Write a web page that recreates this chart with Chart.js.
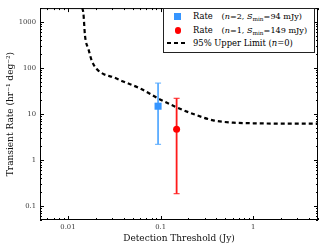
<!DOCTYPE html>
<html>
<head>
<meta charset="utf-8">
<script src="https://cdn.jsdelivr.net/npm/chart.js@4/dist/chart.umd.min.js"></script>
<style>
  body { margin: 0; background: #fff; }
  #wrap { position: relative; width: 323px; height: 250px; }
  #legend {
    position: absolute; left: 163px; top: 8px; width: 150px; height: 43px;
    border: 1px solid #222; background: #fff;
    font-family: "DejaVu Serif", serif; font-size: 8.4px; color: #000;
  }
  #legend .row { position: absolute; left: 0; height: 12px; line-height: 12px; white-space: nowrap; }
  #legend .mk { position: absolute; left: 3px; top: 0; width: 22px; height: 12px; }
  #legend .lbl { position: absolute; left: 29px; top: 0; }
  #legend .m { margin-left: 6px; font-size: 8.1px; }
  #legend sub { font-size: 5.8px; vertical-align: -2px; line-height: 0; }
</style>
</head>
<body>
<div id="wrap">
  <canvas id="rateChart" width="323" height="250"></canvas>
  <div id="legend"></div>
</div>
<script>
// axis ranges and tick labels
const xRange = [0.005, 5];
const yRange = [0.05, 2000];
const xTickValues = [0.01, 0.1, 1];
const yTickValues = [0.1, 1, 10, 100, 1000];

// measured rates
const rateX = [0.094, 0.149];
const rateY = [14.8, 4.7];
const rateLow = [2.2, 0.186];
const rateHigh = [47, 22];
const rateN = [2, 1];
const rateSmin = [94, 149];
const rateColors = ['#3595ff', '#ff0000'];
const barColors = ['#5aacff', '#ff1a1a'];

// 95% upper limit curve (n = 0)
const limitX = [0.0143, 0.0147, 0.0153, 0.0167, 0.0181, 0.0205, 0.0242, 0.031, 0.0395, 0.06, 0.1, 0.149, 0.226, 0.37, 0.61, 1.0, 2.0, 5.0];
const limitY = [2000, 1530, 500, 253, 144, 95, 74, 63, 51, 36, 20.5, 14, 10, 7.3, 6.5, 6.3, 6.2, 6.2];

const serif = '"DejaVu Serif", serif';

// inward ticks on all four sides plus the frame
const frameTicks = {
    id: 'frameTicks',
    afterDraw(chart) {
        const { ctx, chartArea: a, scales } = chart;
        ctx.save();
        ctx.strokeStyle = '#000';
        ctx.lineWidth = 1;
        ctx.strokeRect(a.left + 0.5, a.top + 0.5, a.width - 1, a.height - 1);

        function logTicks(min, max) {
            const out = [];
            for (let e = Math.floor(Math.log10(min)); e <= Math.ceil(Math.log10(max)); e++) {
                for (let m = 1; m < 10; m++) {
                    const v = m * Math.pow(10, e);
                    if (v >= min * 0.999 && v <= max * 1.001) out.push({ v: v, major: m === 1 });
                }
            }
            return out;
        }
        ctx.beginPath();
        logTicks(scales.x.min, scales.x.max).forEach(t => {
            const px = Math.round(scales.x.getPixelForValue(t.v)) + 0.5;
            const len = t.major ? 4 : 2;
            ctx.moveTo(px, a.bottom); ctx.lineTo(px, a.bottom - len);
            ctx.moveTo(px, a.top); ctx.lineTo(px, a.top + len);
        });
        logTicks(scales.y.min, scales.y.max).forEach(t => {
            const py = Math.round(scales.y.getPixelForValue(t.v)) + 0.5;
            const len = t.major ? 4 : 2;
            ctx.moveTo(a.left, py); ctx.lineTo(a.left + len, py);
            ctx.moveTo(a.right, py); ctx.lineTo(a.right - len, py);
        });
        ctx.stroke();
        ctx.restore();
    }
};

const datasets = [
    {
        label: '95% Upper Limit',
        data: limitX.map((x, i) => ({ x: x, y: limitY[i] })),
        showLine: true,
        borderColor: '#000',
        borderWidth: 2.2,
        borderDash: [4, 3],
        pointRadius: 0,
        cubicInterpolationMode: 'monotone',
        order: 3
    }
];

rateX.forEach((x, i) => {
    // error bar with caps
    datasets.push({
        label: 'err' + i,
        data: [{ x: x, y: rateLow[i] }, { x: x, y: rateHigh[i] }],
        showLine: true,
        borderColor: barColors[i],
        borderWidth: 1.8,
        pointStyle: 'line',
        pointRadius: 3,
        pointBorderColor: barColors[i],
        pointBorderWidth: 1,
        order: 2
    });
    // marker
    datasets.push({
        label: 'rate' + i,
        data: [{ x: x, y: rateY[i] }],
        pointStyle: i === 0 ? 'rect' : 'circle',
        pointRadius: i === 0 ? 5 : 3.5,
        backgroundColor: rateColors[i],
        borderColor: rateColors[i],
        borderWidth: 0,
        order: 1
    });
});

const chart = new Chart(document.getElementById('rateChart'), {
    type: 'scatter',
    data: { datasets: datasets },
    options: {
        responsive: false,
        animation: false,
        layout: { padding: { top: 4, right: 5, left: 0, bottom: 0 } },
        plugins: {
            legend: { display: false },
            tooltip: { enabled: false }
        },
        scales: {
            x: {
                type: 'logarithmic',
                min: xRange[0],
                max: xRange[1],
                afterBuildTicks: s => { s.ticks = xTickValues.map(v => ({ value: v })); },
                afterFit: s => { s.height = 30; },
                grid: { display: false, drawTicks: false },
                border: { display: false },
                ticks: {
                    autoSkip: false,
                    maxRotation: 0,
                    padding: 3,
                    color: '#333',
                    font: { family: serif, size: 6.8 },
                    callback: v => String(v)
                },
                title: {
                    display: true,
                    text: 'Detection Threshold (Jy)',
                    color: '#111',
                    font: { family: serif, size: 9 },
                    padding: { top: 0, bottom: 5.5 }
                }
            },
            y: {
                type: 'logarithmic',
                min: yRange[0],
                max: yRange[1],
                afterBuildTicks: s => { s.ticks = yTickValues.map(v => ({ value: v })); },
                afterFit: s => { s.width = 40; },
                grid: { display: false, drawTicks: false },
                border: { display: false },
                ticks: {
                    autoSkip: false,
                    padding: 4,
                    color: '#333',
                    font: { family: serif, size: 6.8 },
                    callback: v => String(v)
                },
                title: {
                    display: true,
                    text: 'Transient Rate (hr\u207B\u00B9 deg\u207B\u00B2)',
                    color: '#111',
                    font: { family: serif, size: 9 },
                    padding: { top: 5, bottom: 0 }
                }
            }
        }
    },
    plugins: [frameTicks]
});

// legend (HTML, for the subscripts)
const legend = document.getElementById('legend');
const rowTops = [1, 15, 28];
rateN.forEach((n, i) => {
    const marker = i === 0
        ? '<span style="position:absolute;left:7px;top:2.5px;width:7px;height:7px;background:' + rateColors[i] + '"></span>'
        : '<span style="position:absolute;left:7.5px;top:3px;width:6.5px;height:6.5px;border-radius:50%;background:' + rateColors[i] + '"></span>';
    legend.insertAdjacentHTML('beforeend',
        '<div class="row" style="top:' + rowTops[i] + 'px"><span class="mk">' + marker + '</span>' +
        '<span class="lbl">Rate <span class="m">(<i>n</i>=' + n + ', <i>S</i><sub>min</sub>=' + rateSmin[i] + ' mJy)</span></span></div>');
});
legend.insertAdjacentHTML('beforeend',
    '<div class="row" style="top:' + rowTops[2] + 'px"><span class="mk">' +
    '<svg width="22" height="12"><line x1="0" y1="6" x2="20" y2="6" stroke="#000" stroke-width="2.2" stroke-dasharray="4 3"/></svg></span>' +
    '<span class="lbl">95% Upper Limit (<i>n</i>=0)</span></div>');
</script>
</body>
</html>
